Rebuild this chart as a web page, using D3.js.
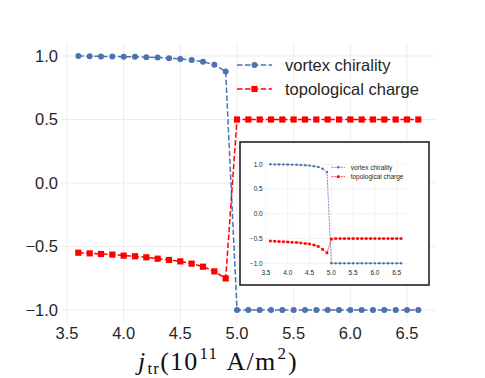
<!DOCTYPE html>
<html><head><meta charset="utf-8">
<script src="https://cdn.jsdelivr.net/npm/d3@7"></script>
<style>html,body{margin:0;padding:0;background:#fff}svg{display:block}</style>
</head><body><svg id="c" width="485" height="378"></svg>
<script>
const xVals = [3.6,3.7,3.8,3.9,4.0,4.1,4.2,4.3,4.4,4.5,4.6,4.7,4.8,4.9,5.0,5.1,5.2,5.3,5.4,5.5,5.6,5.7,5.8,5.9,6.0,6.1,6.2,6.3,6.4,6.5,6.6];
const vortexMain = [1.0,0.998,0.997,0.996,0.995,0.994,0.991,0.988,0.983,0.977,0.968,0.955,0.931,0.878,-1,-1,-1,-1,-1,-1,-1,-1,-1,-1,-1,-1,-1,-1,-1,-1,-1];
const chargeMain = [-0.549,-0.554,-0.559,-0.564,-0.572,-0.577,-0.585,-0.596,-0.606,-0.617,-0.635,-0.659,-0.696,-0.751,0.5,0.5,0.5,0.5,0.5,0.5,0.5,0.5,0.5,0.5,0.5,0.5,0.5,0.5,0.5,0.5,0.5];
const vortexInset = [1.0,0.998,0.997,0.996,0.995,0.993,0.99,0.987,0.981,0.974,0.963,0.945,0.91,0.845,-1,-1,-1,-1,-1,-1,-1,-1,-1,-1,-1,-1,-1,-1,-1,-1,-1];
const chargeInset = [-0.55,-0.555,-0.56,-0.565,-0.57,-0.575,-0.58,-0.59,-0.6,-0.61,-0.63,-0.66,-0.72,-0.79,-0.51,-0.5,-0.5,-0.5,-0.5,-0.5,-0.5,-0.5,-0.5,-0.5,-0.5,-0.5,-0.5,-0.5,-0.5,-0.5,-0.5];
const xTicks = [3.5,4.0,4.5,5.0,5.5,6.0,6.5];
const yTicks = [-1.0,-0.5,0.0,0.5,1.0];
const seriesNames = ["vortex chirality","topological charge"];

const BLUE = "#4C72B0", RED = "#FF0000", TXT = "#262626", GRID = "#ebebeb";
const svg = d3.select("#c");
const fmt = d => (d < 0 ? "\u2212" : "") + Math.abs(d).toFixed(1);

function panel(g, x, y, o) {
  g.append("g").selectAll("line").data(xTicks).join("line")
    .attr("x1", d => x(d)).attr("x2", d => x(d))
    .attr("y1", y.range()[0]).attr("y2", y.range()[1])
    .attr("stroke", GRID).attr("stroke-width", o.gw);
  g.append("g").selectAll("line").data(yTicks).join("line")
    .attr("y1", d => y(d)).attr("y2", d => y(d))
    .attr("x1", x.range()[0]).attr("x2", x.range()[1])
    .attr("stroke", GRID).attr("stroke-width", o.gw);
  g.append("g").selectAll("text").data(xTicks).join("text")
    .attr("x", d => x(d)).attr("y", o.xLabY).attr("text-anchor", "middle")
    .attr("font-family", "Liberation Sans, Arial, sans-serif").attr("font-size", o.fs)
    .attr("fill", TXT).text(d => d.toFixed(1));
  g.append("g").selectAll("text").data(yTicks).join("text")
    .attr("x", o.yLabX).attr("y", d => y(d)).attr("dy", "0.36em").attr("text-anchor", "end")
    .attr("font-family", "Liberation Sans, Arial, sans-serif").attr("font-size", o.fs)
    .attr("fill", TXT).text(fmt);
  const line = d3.line().x(d => x(d[0])).y(d => y(d[1]));
  const series = [
    {vals: o.v, color: BLUE, shape: "circle"},
    {vals: o.c, color: RED, shape: "square"}
  ];
  series.forEach(s => {
    const pts = xVals.map((xv, i) => [xv, s.vals[i]]);
    g.append("path").attr("d", line(pts)).attr("fill", "none")
      .attr("stroke", s.color).attr("stroke-width", o.lw).attr("stroke-dasharray", o.dash);
    if (s.shape === "circle") {
      g.append("g").selectAll("circle").data(pts).join("circle")
        .attr("cx", d => x(d[0])).attr("cy", d => y(d[1])).attr("r", o.r).attr("fill", s.color);
    } else {
      g.append("g").selectAll("rect").data(pts).join("rect")
        .attr("x", d => x(d[0]) - o.sq / 2).attr("y", d => y(d[1]) - o.sq / 2)
        .attr("width", o.sq).attr("height", o.sq).attr("fill", s.color);
    }
  });
  const lg = g.append("g");
  [BLUE, RED].forEach((col, i) => {
    const ly = o.legY[i];
    lg.append("line").attr("x1", o.legX[0]).attr("x2", o.legX[1]).attr("y1", ly).attr("y2", ly)
      .attr("stroke", col).attr("stroke-width", o.lw).attr("stroke-dasharray", o.dash);
    const mx = (o.legX[0] + o.legX[1]) / 2;
    if (i === 0) lg.append("circle").attr("cx", mx).attr("cy", ly).attr("r", o.r).attr("fill", col);
    else lg.append("rect").attr("x", mx - o.sq / 2).attr("y", ly - o.sq / 2).attr("width", o.sq).attr("height", o.sq).attr("fill", col);
    lg.append("text").attr("x", o.legTX).attr("y", ly).attr("dy", "0.36em")
      .attr("font-family", "Liberation Sans, Arial, sans-serif").attr("font-size", o.lfs)
      .attr("fill", TXT).text(seriesNames[i]);
  });
}

const x = d3.scaleLinear().domain([3.45, 6.75]).range([61.33, 435.33]);
const y = d3.scaleLinear().domain([-1.1, 1.1]).range([322.7, 43.3]);
panel(svg.append("g"), x, y, {
  gw: 1, fs: 16.5, xLabY: 339, yLabX: 58, lw: 1.5, dash: "5.5,2.4", r: 3, sq: 6.2,
  v: vortexMain, c: chargeMain, legX: [237, 272], legY: [65, 89], legTX: 285, lfs: 16.5
});

const xl = svg.append("text").attr("x", 138).attr("y", 370)
  .attr("font-family", "Liberation Serif, Times New Roman, serif").attr("font-size", 26)
  .attr("letter-spacing", 1.2).attr("fill", "#111");
xl.append("tspan").attr("font-style", "italic").text("j");
xl.append("tspan").attr("font-size", 17).attr("dy", 4).attr("dx", 1).text("tr");
xl.append("tspan").attr("dy", -4).text("(10");
xl.append("tspan").attr("font-size", 17).attr("dy", -11).attr("dx", 1).text("11");
xl.append("tspan").attr("dy", 11).attr("dx", 2).text(" A/m");
xl.append("tspan").attr("font-size", 17).attr("dy", -11).attr("dx", 1).text("2");
xl.append("tspan").attr("dy", 11).attr("dx", 1).text(")");

const ig = svg.append("g");
ig.append("rect").attr("x", 240).attr("y", 142).attr("width", 189).attr("height", 143)
  .attr("fill", "#fff").attr("stroke", "#222").attr("stroke-width", 1.6);
const xi = d3.scaleLinear().domain([3.45, 6.75]).range([263.8, 407.6]);
const yi = d3.scaleLinear().domain([-1.1, 1.1]).range([268.25, 159.35]);
panel(ig, xi, yi, {
  gw: 0.6, fs: 6.5, xLabY: 274.5, yLabX: 262.7, lw: 0.8, dash: "2,1", r: 1.2, sq: 2.6,
  v: vortexInset, c: chargeInset, legX: [331.7, 345], legY: [167.3, 176.7], legTX: 350.7, lfs: 6.5
});
</script></body></html>
